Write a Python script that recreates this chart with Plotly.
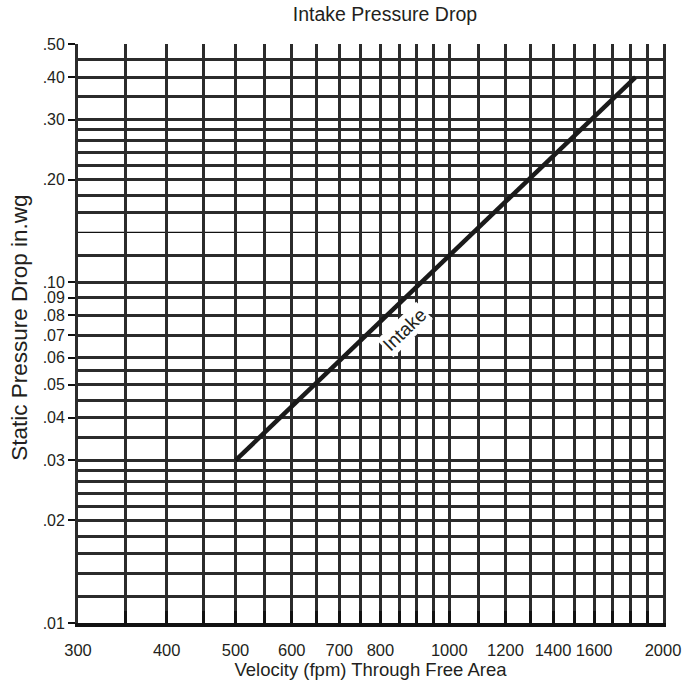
import plotly.graph_objects as go
import math

# Data
velocity = [500, 1000, 1830]          # fpm
pressure = [0.030, 0.120, 0.400]      # in.wg

x_grid = [300, 350, 400, 450, 500, 550, 600, 650, 700, 750, 800, 850, 900, 950,
          1000, 1100, 1200, 1300, 1400, 1500, 1600, 1700, 1800, 1900, 2000]
x_labeled = [300, 400, 500, 600, 700, 800, 1000, 1200, 1400, 1600, 2000]
x_labels = ["300", "400", "500", "600", "700", "800", "1000", "1200", "1400", "1600", "2000"]

y_labeled = [0.01, 0.02, 0.03, 0.04, 0.05, 0.06, 0.07, 0.08, 0.09, 0.10, 0.20, 0.30, 0.40, 0.50]
y_labels = [".01", ".02", ".03", ".04", ".05", ".06", ".07", ".08", ".09", ".10", ".20", ".30", ".40", ".50"]
y_minor = [0.012, 0.014, 0.016, 0.018, 0.022, 0.024, 0.026, 0.028, 0.035, 0.045, 0.055,
           0.12, 0.16, 0.18, 0.22, 0.24, 0.26, 0.28, 0.35, 0.45]
y_thin = [0.14]

FONT = "Liberation Sans, Arial, sans-serif"
GRID = "#2b2b2b"
GW = 2.8
TXT = "#231f20"

x_ticktext = [x_labels[x_labeled.index(v)] if v in x_labeled else "" for v in x_grid]

fig = go.Figure()
fig.add_trace(go.Scatter(
    x=velocity, y=pressure, mode="lines",
    line=dict(color="#1a1a1a", width=4.5),
    showlegend=False, hoverinfo="skip",
))

for v in y_thin:
    fig.add_shape(type="line", xref="paper", yref="y", x0=0, x1=1, y0=v, y1=v,
                  line=dict(color="#111", width=1.2), layer="below")

fig.add_annotation(
    x=math.log10(866), y=math.log10(0.0725), xref="x", yref="y",
    text="Intake", showarrow=False, textangle=-44,
    font=dict(family=FONT, size=19, color=TXT),
    bgcolor="white", borderpad=1,
)

# y-axis title
fig.add_annotation(
    x=-0.1, y=0.509, xref="paper", yref="paper",
    text="Static Pressure Drop in.wg", showarrow=False, textangle=-90,
    xanchor="center", yanchor="middle",
    font=dict(family=FONT, size=22.5, color=TXT),
)

fig.update_layout(
    width=685, height=685,
    margin=dict(l=78, r=22, t=44, b=62, autoexpand=False),
    paper_bgcolor="white", plot_bgcolor="white",
    title=dict(text="Intake Pressure Drop", x=0.562, xanchor="center", y=0.99, yanchor="top",
               font=dict(family=FONT, size=19.5, color=TXT)),
    font=dict(family=FONT, color=TXT),
    xaxis=dict(
        type="log", range=[math.log10(300), math.log10(2000)],
        tickmode="array", tickvals=x_grid, ticktext=x_ticktext,
        ticks="inside", ticklen=12, tickwidth=3, tickcolor="#111",
        ticklabelstandoff=9,
        showgrid=True, gridcolor=GRID, gridwidth=GW,
        showline=True, linecolor="#111", linewidth=3.5,
        tickfont=dict(family=FONT, size=16.5, color=TXT),
        title=dict(text="Velocity (fpm) Through Free Area", standoff=3,
                   font=dict(family=FONT, size=18.5, color=TXT)),
        zeroline=False, automargin=False,
    ),
    yaxis=dict(
        type="log", range=[-2, math.log10(0.5)],
        tickmode="array", tickvals=y_labeled, ticktext=y_labels,
        ticks="outside", ticklen=7, tickwidth=2, tickcolor="#111",
        showgrid=True, gridcolor=GRID, gridwidth=GW,
        minor=dict(tickmode="array", tickvals=y_minor, showgrid=True,
                   gridcolor=GRID, gridwidth=GW, ticks=""),
        showline=True, linecolor=GRID, linewidth=GW, mirror=True,
        tickfont=dict(family=FONT, size=16, color=TXT),
        zeroline=False, automargin=False,
    ),
)

fig.write_html("out.html", config={"displayModeBar": False},
               post_script="document.body.style.margin='0';")
